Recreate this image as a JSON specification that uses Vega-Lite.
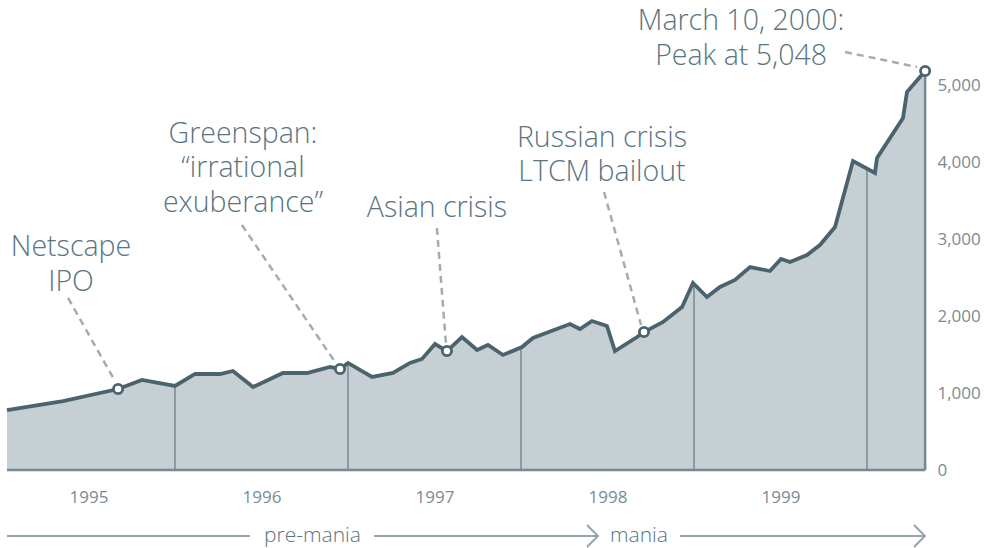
{
  "$schema": "https://vega.github.io/schema/vega-lite/v6.json",
  "autosize": "none",
  "width": 919,
  "height": 470,
  "padding": {"left": 7, "top": 0, "right": 58, "bottom": 78},
  "background": "#ffffff",
  "config": {"view": {"stroke": null}},
  "datasets": {
    "nasdaq": [
      {"t": 1995.029, "v": 779}, {"t": 1995.353, "v": 896}, {"t": 1995.671, "v": 1052}, {"t": 1995.809, "v": 1169},
      {"t": 1996.0, "v": 1091}, {"t": 1996.116, "v": 1247}, {"t": 1996.26, "v": 1247}, {"t": 1996.335, "v": 1286},
      {"t": 1996.451, "v": 1078}, {"t": 1996.624, "v": 1260}, {"t": 1996.763, "v": 1260}, {"t": 1996.896, "v": 1338},
      {"t": 1996.954, "v": 1312}, {"t": 1997.0, "v": 1390}, {"t": 1997.139, "v": 1208}, {"t": 1997.26, "v": 1260},
      {"t": 1997.358, "v": 1390}, {"t": 1997.428, "v": 1442}, {"t": 1997.503, "v": 1636}, {"t": 1997.572, "v": 1545},
      {"t": 1997.659, "v": 1727}, {"t": 1997.746, "v": 1558}, {"t": 1997.809, "v": 1623}, {"t": 1997.896, "v": 1494},
      {"t": 1998.006, "v": 1597}, {"t": 1998.069, "v": 1714}, {"t": 1998.283, "v": 1896}, {"t": 1998.341, "v": 1831},
      {"t": 1998.41, "v": 1935}, {"t": 1998.497, "v": 1870}, {"t": 1998.543, "v": 1545}, {"t": 1998.671, "v": 1727},
      {"t": 1998.711, "v": 1792}, {"t": 1998.821, "v": 1922}, {"t": 1998.931, "v": 2117}, {"t": 1998.994, "v": 2429},
      {"t": 1999.075, "v": 2247}, {"t": 1999.15, "v": 2377}, {"t": 1999.237, "v": 2468}, {"t": 1999.324, "v": 2636},
      {"t": 1999.439, "v": 2584}, {"t": 1999.503, "v": 2740}, {"t": 1999.555, "v": 2701}, {"t": 1999.653, "v": 2792},
      {"t": 1999.728, "v": 2922}, {"t": 1999.815, "v": 3156}, {"t": 1999.919, "v": 4013}, {"t": 2000.046, "v": 3857},
      {"t": 2000.058, "v": 4052}, {"t": 2000.208, "v": 4571}, {"t": 2000.231, "v": 4909}, {"t": 2000.336, "v": 5182}
    ],
    "yearlines": [
      {"t": 1996, "v": 1091}, {"t": 1997, "v": 1390}, {"t": 1998, "v": 1592}, {"t": 1999, "v": 2429}, {"t": 2000, "v": 3914}
    ],
    "edges": [
      {"t": 1995.029, "v": 0, "t2": 2000.336, "v2": 0},
      {"t": 2000.336, "v": 0, "t2": 2000.336, "v2": 5182}
    ],
    "leaders": [
      {"t": 1995.382, "v": 2234, "t2": 1995.653, "v2": 1156},
      {"t": 1996.387, "v": 3182, "t2": 1996.925, "v2": 1403},
      {"t": 1997.514, "v": 3143, "t2": 1997.566, "v2": 1649},
      {"t": 1998.48, "v": 3610, "t2": 1998.694, "v2": 1883},
      {"t": 1999.873, "v": 5429, "t2": 2000.289, "v2": 5234}
    ],
    "events": [
      {"t": 1995.671, "v": 1052}, {"t": 1996.954, "v": 1312}, {"t": 1997.572, "v": 1545},
      {"t": 1998.711, "v": 1792}, {"t": 2000.336, "v": 5182}
    ],
    "notes": [
      {"t": 1995.399, "v": 2779, "label": "Netscape\nIPO"},
      {"t": 1996.393, "v": 4247, "label": "Greenspan:\n“irrational\nexuberance”"},
      {"t": 1997.514, "v": 3286, "label": "Asian crisis"},
      {"t": 1998.468, "v": 4195, "label": "Russian crisis\nLTCM bailout"},
      {"t": 1999.272, "v": 5714, "label": "March 10, 2000:\nPeak at 5,048"}
    ],
    "phases": [
      {"t": 1995.029, "t2": 1996.434, "v": -857},
      {"t": 1997.15, "t2": 1998.445, "v": -857},
      {"t": 1998.919, "t2": 2000.335, "v": -857}
    ],
    "arrows": [
      {"t": 1998.445, "v": -857}, {"t": 2000.335, "v": -857}
    ],
    "phaselabels": [
      {"t": 1996.795, "v": -935, "label": "pre-mania"},
      {"t": 1998.682, "v": -935, "label": "mania"}
    ]
  },
  "encoding": {
    "x": {
      "field": "t", "type": "quantitative", "title": null,
      "scale": {"domain": [1995.029, 2000.341], "nice": false, "zero": false},
      "axis": {
        "orient": "bottom", "values": [1995.5, 1996.5, 1997.5, 1998.5, 1999.5],
        "labelExpr": "'' + floor(datum.value)", "domain": false, "ticks": false, "grid": false,
        "labelFont": "Open Sans", "labelFontSize": 17, "labelColor": "#7a8b93",
        "labelBaseline": "alphabetic", "labelPadding": 32, "labelFlush": false
      }
    },
    "y": {
      "field": "v", "type": "quantitative", "title": null,
      "scale": {"domain": [0, 6104], "nice": false, "zero": false},
      "axis": {
        "orient": "right", "values": [0, 1000, 2000, 3000, 4000, 5000],
        "labelExpr": "format(datum.value, ',d')",
        "domain": false, "ticks": false, "grid": false,
        "labelFont": "Open Sans", "labelFontSize": 17, "labelColor": "#7a8b93",
        "labelAlign": "left", "labelBaseline": "middle", "labelPadding": 11
      }
    }
  },
  "layer": [
    {"data": {"name": "nasdaq"}, "mark": {"type": "area", "color": "#c6cfd4", "opacity": 1}},
    {"data": {"name": "yearlines"}, "mark": {"type": "rule", "color": "#647882", "strokeWidth": 1.2},
     "encoding": {"y2": {"datum": 0}}},
    {"data": {"name": "edges"}, "mark": {"type": "rule", "color": "#758992", "strokeWidth": 2.5},
     "encoding": {"x2": {"field": "t2"}, "y2": {"field": "v2"}}},
    {"data": {"name": "nasdaq"}, "mark": {"type": "line", "color": "#4b636d", "strokeWidth": 3.8}},
    {"data": {"name": "leaders"}, "mark": {"type": "rule", "color": "#a0adb4", "strokeWidth": 2.5, "strokeDash": [7, 5]},
     "encoding": {"x2": {"field": "t2"}, "y2": {"field": "v2"}}},
    {"data": {"name": "events"}, "mark": {"type": "point", "shape": "circle", "filled": true, "fill": "#ffffff", "stroke": "#4b636d", "strokeWidth": 2.8, "size": 85, "opacity": 1}},
    {"data": {"name": "notes"}, "mark": {"type": "text", "font": "Open Sans", "fontWeight": 300, "fontSize": 28.5, "color": "#5a7482", "align": "center", "baseline": "alphabetic", "lineBreak": "\n", "lineHeight": 34.5},
     "encoding": {"text": {"field": "label"}}},
    {"data": {"name": "phases"}, "mark": {"type": "rule", "color": "#93a4ac", "strokeWidth": 2},
     "encoding": {"x2": {"field": "t2"}}},
    {"data": {"name": "arrows"}, "mark": {"type": "point", "shape": "M-1,-1L0,0L-1,1", "filled": false, "stroke": "#93a4ac", "strokeWidth": 2, "size": 484, "opacity": 1}},
    {"data": {"name": "phaselabels"}, "mark": {"type": "text", "font": "Open Sans", "fontWeight": 300, "fontSize": 21, "color": "#5a7482", "align": "center", "baseline": "alphabetic"},
     "encoding": {"text": {"field": "label"}}}
  ]
}
